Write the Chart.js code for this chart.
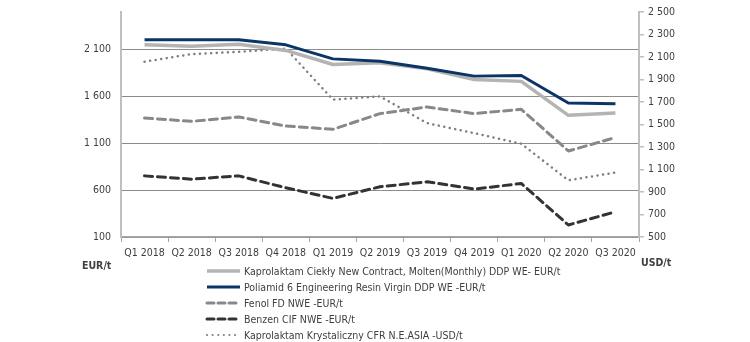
<!DOCTYPE html>
<html>
<head>
<meta charset="utf-8">
<script src="https://cdn.jsdelivr.net/npm/chart.js@4/dist/chart.umd.min.js"></script>
<style>
    body { margin: 0; background: #fff; }
    #wrap { position: relative; width: 750px; height: 342px; }
    #legend { position: absolute; left: 205px; top: 263px; font: 10.5px "DejaVu Sans Condensed", sans-serif; color: #404040; }
    #legend .row { height: 16px; display: flex; align-items: center; }
    #legend svg { margin-right: 3px; }
    .unit { position: absolute; font: bold 10.5px "DejaVu Sans Condensed", sans-serif; color: #404040; }
</style>
</head>
<body>
<div id="wrap">
    <canvas id="myChart" width="750" height="342"></canvas>
    <div class="unit" style="left:82px; top:259px;">EUR/t</div>
    <div class="unit" style="left:641px; top:256px;">USD/t</div>
    <div id="legend"></div>
</div>
<script>
const quarters = ['Q1 2018', 'Q2 2018', 'Q3 2018', 'Q4 2018', 'Q1 2019', 'Q2 2019',
    'Q3 2019', 'Q4 2019', 'Q1 2020', 'Q2 2020', 'Q3 2020'];

// EUR/t, left axis
const kaprolaktamCiekly = [2150, 2135, 2155, 2090, 1940, 1958, 1895, 1780, 1760, 1398, 1423];
const poliamid6 = [2203, 2203, 2203, 2150, 2000, 1975, 1900, 1816, 1822, 1529, 1522];
const fenol = [1369, 1334, 1380, 1284, 1249, 1416, 1487, 1416, 1462, 1018, 1161];
const benzen = [752, 717, 752, 625, 512, 636, 689, 611, 671, 228, 369];
// USD/t, right axis
const kaprolaktamKrystaliczny = [2058, 2126, 2146, 2175, 1721, 1750, 1512, 1423, 1329, 1004, 1073];

const leftTicks = [100, 600, 1100, 1600, 2100];

const series = [
    {label: 'Kaprolaktam Ciekły New Contract, Molten(Monthly) DDP WE- EUR/t', data: kaprolaktamCiekly,
        color: '#b4b4b4', width: 3.5, dash: [], axis: 'y', order: 2},
    {label: 'Poliamid 6 Engineering Resin Virgin DDP WE -EUR/t', data: poliamid6,
        color: '#0b3566', width: 3, dash: [], axis: 'y', order: 1},
    {label: 'Fenol FD NWE -EUR/t', data: fenol,
        color: '#888888', width: 3, dash: [8, 5], axis: 'y', order: 3},
    {label: 'Benzen CIF NWE -EUR/t', data: benzen,
        color: '#333333', width: 3, dash: [8, 5], axis: 'y', order: 4},
    {label: 'Kaprolaktam Krystaliczny CFR N.E.ASIA -USD/t', data: kaprolaktamKrystaliczny,
        color: '#7f7f7f', width: 2.5, dash: [0.1, 5.5], axis: 'y1', order: 5}
];

const txt = '#404040';
const font = {family: '"DejaVu Sans Condensed", sans-serif', size: 10.5};

function spaced(value) {
    return value.toLocaleString('en-US').replace(',', ' ');
}

var ctx = document.getElementById('myChart').getContext('2d');
const myChart = new Chart(ctx, {
    type: 'line',
    data: {
        labels: quarters,
        datasets: series.map(s => ({
            label: s.label,
            data: s.data,
            yAxisID: s.axis,
            borderColor: s.color,
            borderWidth: s.width,
            borderDash: s.dash,
            borderCapStyle: s.dash.length ? 'round' : 'butt',
            borderJoinStyle: 'round',
            pointRadius: 0,
            fill: false,
            tension: 0,
            order: s.order
        }))
    },
    options: {
        responsive: false,
        animation: false,
        layout: {padding: {top: 12, bottom: 75}},
        plugins: {
            legend: {display: false},
            tooltip: {enabled: false}
        },
        scales: {
            x: {
                offset: true,
                grid: {
                    offset: true,
                    drawOnChartArea: false,
                    drawTicks: true,
                    tickLength: 5,
                    color: '#a6a6a6'
                },
                border: {color: '#a6a6a6', width: 1.5},
                ticks: {color: txt, font: font, maxRotation: 0, autoSkip: false, padding: 5},
                afterFit: function(scale) { scale.height = 30; }
            },
            y: {
                position: 'left',
                min: 100,
                max: 2500,
                afterBuildTicks: function(scale) {
                    scale.ticks = leftTicks.map(v => ({value: v}));
                },
                grid: {color: '#8c8c8c', lineWidth: 1, drawTicks: true, tickLength: 6, tickColor: 'rgba(0,0,0,0)'},
                border: {color: '#bfbfbf', width: 2},
                ticks: {color: txt, font: font, padding: 4, callback: spaced},
                afterFit: function(scale) { scale.width = 121; }
            },
            y1: {
                position: 'right',
                min: 500,
                max: 2500,
                ticks: {stepSize: 200, color: txt, font: font, padding: 4, callback: spaced},
                grid: {drawOnChartArea: false, drawTicks: true, tickLength: 5, color: '#bfbfbf', lineWidth: 1.5},
                border: {color: '#bfbfbf', width: 2},
                afterFit: function(scale) { scale.width = 111; }
            }
        }
    }
});

// legend below the chart
const legendEl = document.getElementById('legend');
series.forEach(s => {
    const row = document.createElement('div');
    row.className = 'row';
    const dash = s.dash.length ? (s.axis === 'y1' ? '0.1 5.5' : '7 4') : 'none';
    const cap = s.dash.length ? 'round' : 'butt';
    row.innerHTML = '<svg width="36" height="6"><line x1="2" y1="3" x2="35" y2="3" stroke="' + s.color +
        '" stroke-width="' + (s.axis === 'y1' ? 2 : s.width) + '" stroke-dasharray="' + dash +
        '" stroke-linecap="' + cap + '"/></svg><span>' + s.label + '</span>';
    legendEl.appendChild(row);
});
</script>
</body>
</html>
